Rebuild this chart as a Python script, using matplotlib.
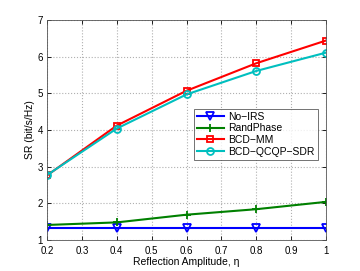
import matplotlib
matplotlib.use("Agg")
import matplotlib.pyplot as plt

plt.rcParams['font.family'] = ['Liberation Sans', 'DejaVu Sans']

eta = [0.2, 0.4, 0.6, 0.8, 1.0]
no_irs = [1.34, 1.34, 1.34, 1.34, 1.34]
rand_phase = [1.41, 1.48, 1.69, 1.84, 2.04]
bcd_mm = [2.76, 4.12, 5.07, 5.82, 6.44]
bcd_qcqp = [2.77, 4.04, 4.97, 5.61, 6.11]

fig = plt.figure(figsize=(3.6, 2.71), dpi=100)
ax = fig.add_axes([47/360, 1-240/271, (326-47)/360, (240-20)/271])

lw = 1.5
ax.plot(eta, no_irs, color='#0000ff', marker='v', ms=6, mfc='none', mew=1.3, lw=lw, label='No−IRS')
ax.plot(eta, rand_phase, color='#008000', marker='+', ms=6, mew=1.3, lw=lw, label='RandPhase')
ax.plot(eta, bcd_mm, color='#ff0000', marker='s', ms=5, mfc='none', mew=1.3, lw=lw, label='BCD−MM')
ax.plot(eta, bcd_qcqp, color='#00bfbf', marker='o', ms=5, mfc='none', mew=1.3, lw=lw, label='BCD−QCQP−SDR')

ax.set_xlim(0.2, 1.0)
ax.set_ylim(1, 7)
ax.set_xticks([0.2, 0.3, 0.4, 0.5, 0.6, 0.7, 0.8, 0.9, 1.0])
ax.set_xticklabels(['0.2', '0.3', '0.4', '0.5', '0.6', '0.7', '0.8', '0.9', '1'])
ax.set_yticks([1, 2, 3, 4, 5, 6, 7])
ax.grid(True, linestyle=':', color='#b0b0b0', lw=0.8)
ax.tick_params(direction='in', labelsize=7, length=3, width=0.6, top=True, right=True)
ax.tick_params(axis='x', pad=4)
ax.tick_params(axis='y', pad=3)
for s in ax.spines.values():
    s.set_linewidth(0.6)
    s.set_color('#555555')
ax.set_xlabel('Reflection Amplitude, η', fontsize=7.5, labelpad=1)
ax.set_ylabel('SR (bit/s/Hz)', fontsize=7.5, labelpad=2)

leg = ax.legend(loc='lower right', bbox_to_anchor=(0.97, 0.365), fontsize=7.5, frameon=True,
                fancybox=False, edgecolor='#333333', borderpad=0.3, labelspacing=0.15,
                handlelength=2.6, handletextpad=0.4, borderaxespad=0)
leg.get_frame().set_linewidth(0.6)

fig.savefig('out.png', dpi=100)
